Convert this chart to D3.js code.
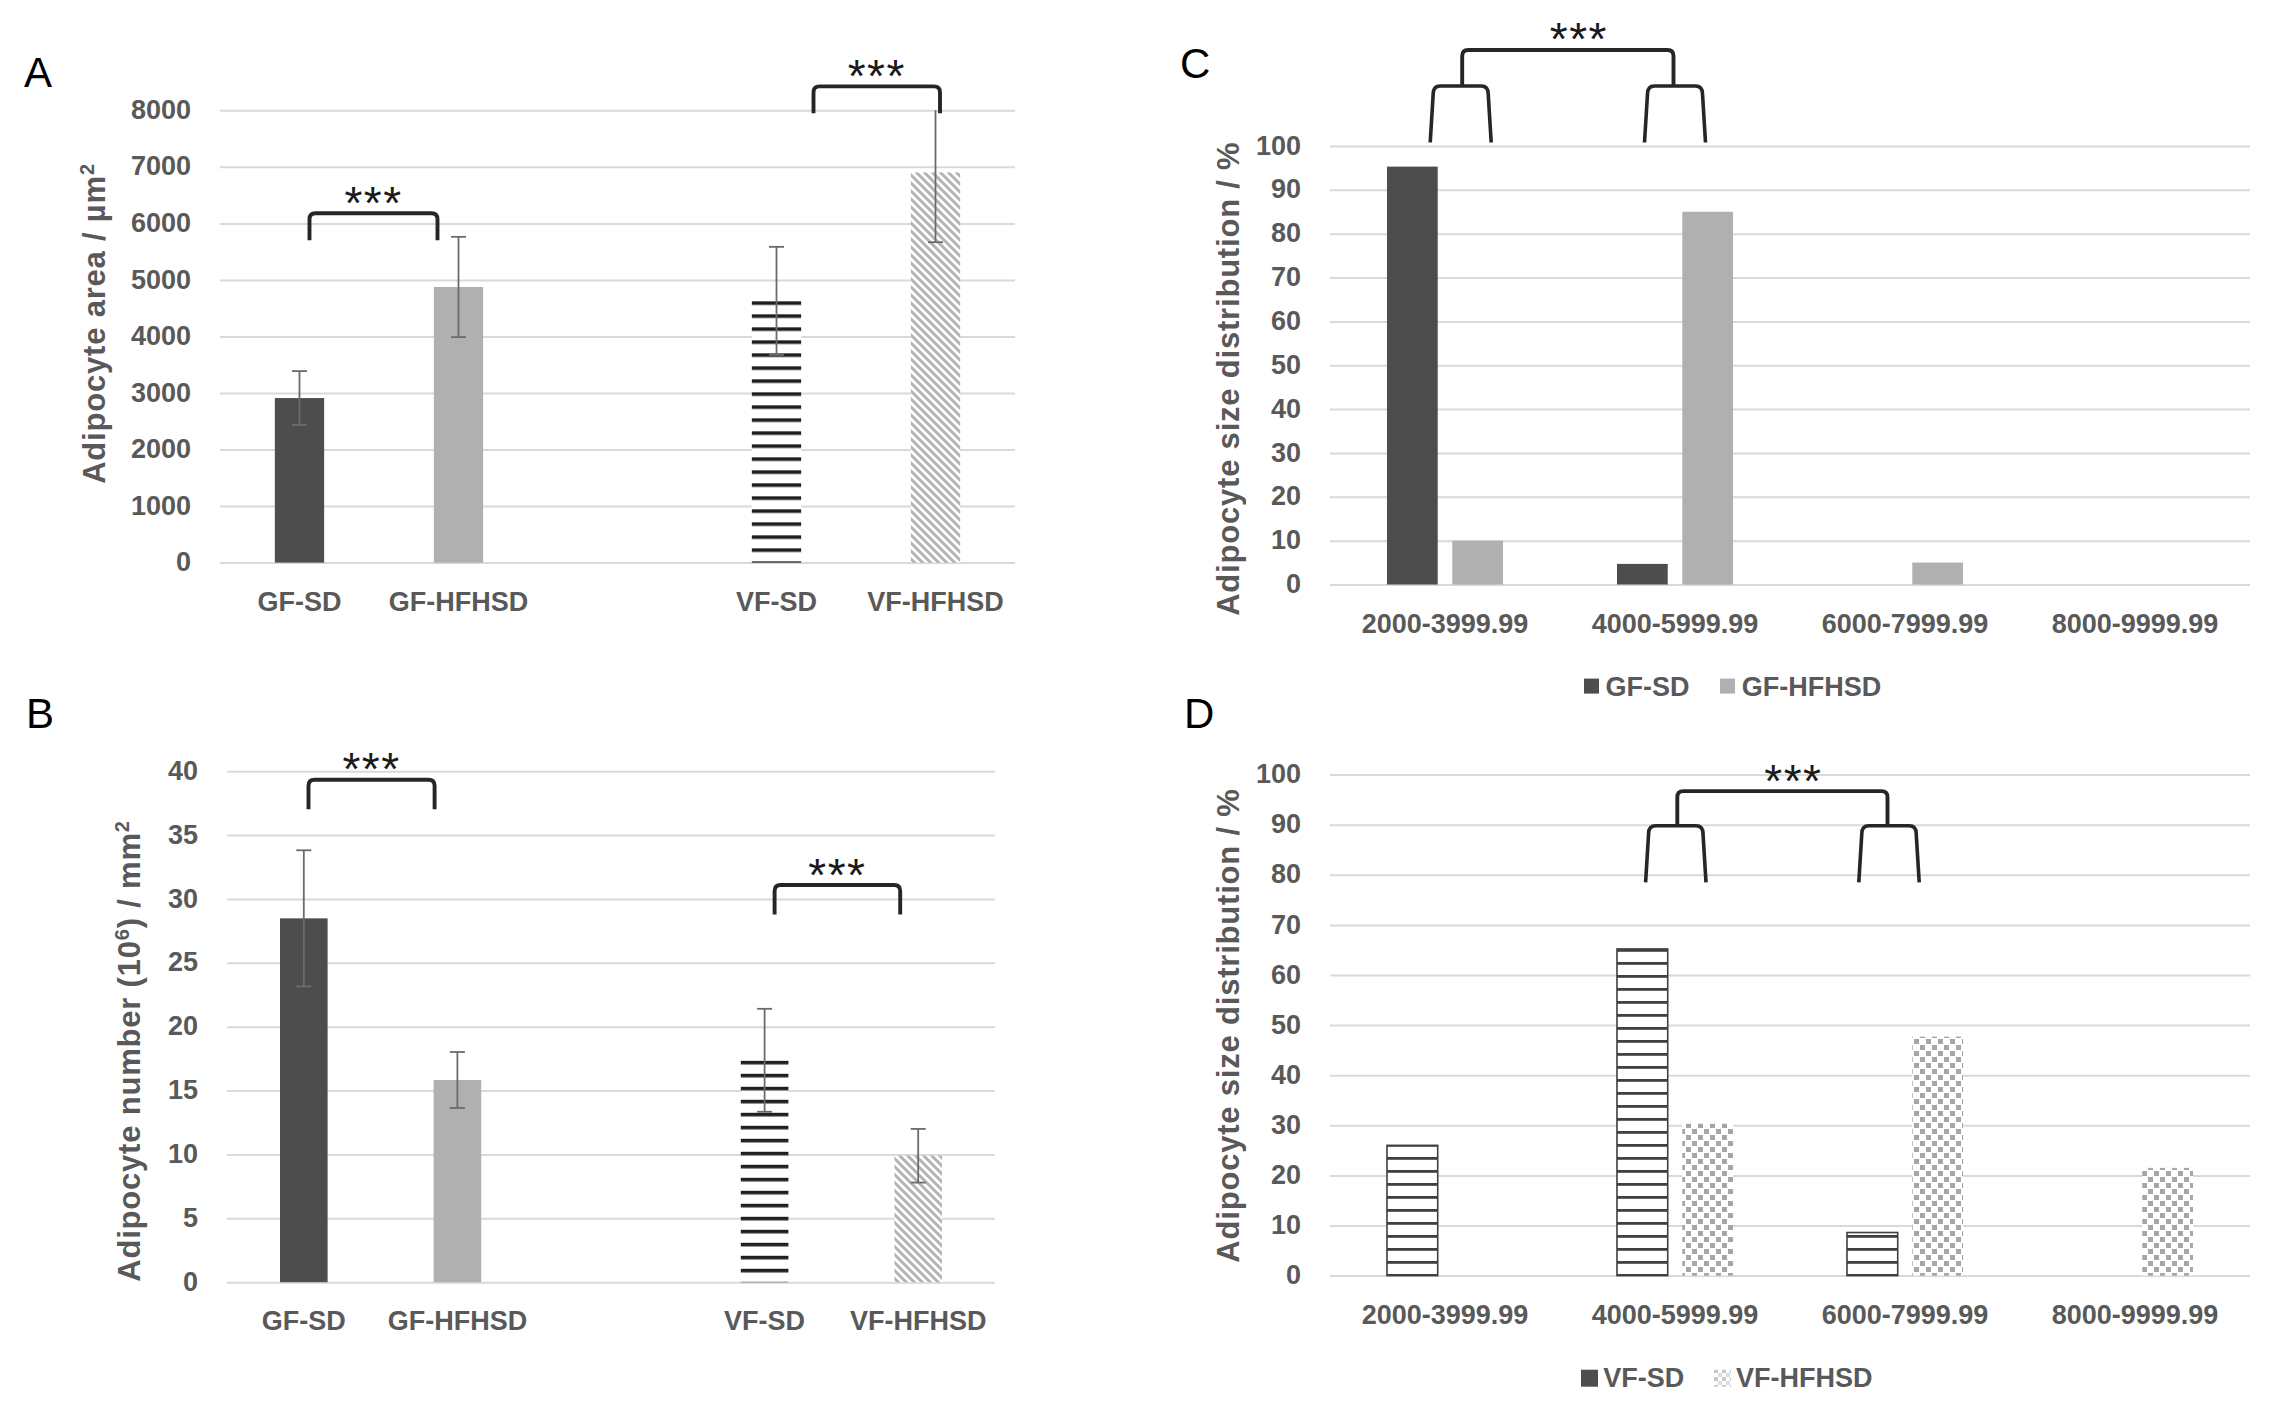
<!DOCTYPE html>
<html><head><meta charset="utf-8">
<script src="https://cdn.jsdelivr.net/npm/d3@7"></script>
<style>
html,body{margin:0;padding:0;background:#fff;}
svg{display:block;}
text{font-family:"Liberation Sans",Arial,Helvetica,sans-serif;}
</style>
</head><body>
<svg id="chart" width="2293" height="1409"></svg>
<script>
// ---------------- data ----------------
const groupCats = ["GF-SD", "GF-HFHSD", "", "VF-SD", "VF-HFHSD"];
const areaMeans = [2910, 4875, null, 4630, 6900];
const areaErr   = [477, 887, null, 955, 1233];
const areaTicks = [0, 1000, 2000, 3000, 4000, 5000, 6000, 7000, 8000];

const numberMeans = [28.48, 15.83, null, 17.37, 9.9];
const numberErr   = [5.33, 2.19, null, 4.03, 2.1];
const numberTicks = [0, 5, 10, 15, 20, 25, 30, 35, 40];

const sizeBins = ["2000-3999.99", "4000-5999.99", "6000-7999.99", "8000-9999.99"];
const gfSD     = [95.3, 4.7, 0, 0];
const gfHFHSD  = [10.0, 85.0, 5.0, 0];
const vfSD     = [26.0, 65.2, 8.6, 0];
const vfHFHSD  = [0, 30.3, 47.7, 21.5];
const pctTicks = [0, 10, 20, 30, 40, 50, 60, 70, 80, 90, 100];

const sig = "***";

// ---------------- setup ----------------
const svg = d3.select("#chart");
svg.append("rect").attr("width", 2293).attr("height", 1409).attr("fill", "#fff");
const defs = svg.append("defs");

const TXT = "#595959", GRID = "#d9d9d9", DARK = "#4d4d4d", LIGHT = "#b0b0b0";
const FONT = '"Liberation Sans", Arial, Helvetica, sans-serif';

// diagonal (downward) stripes
const diag = defs.append("pattern").attr("id", "diag").attr("patternUnits", "userSpaceOnUse")
  .attr("width", 8).attr("height", 8);
diag.append("rect").attr("width", 8).attr("height", 8).attr("fill", "#fff");
diag.append("path").attr("d", "M-2,-2 L10,10 M-2,6 L2,10 M6,-2 L10,2")
  .attr("stroke", "#b3b3b3").attr("stroke-width", 3);

// dotted
const dots = defs.append("pattern").attr("id", "dots").attr("patternUnits", "userSpaceOnUse")
  .attr("width", 12).attr("height", 12);
dots.append("rect").attr("width", 12).attr("height", 12).attr("fill", "#fff");
dots.append("rect").attr("x", 0).attr("y", 1).attr("width", 5).attr("height", 5).attr("fill", "#a6a6a6");
dots.append("rect").attr("x", 6).attr("y", 7).attr("width", 5).attr("height", 5).attr("fill", "#a6a6a6");

function hStripes(id, y0, color, thick) {
  const p = defs.append("pattern").attr("id", id).attr("patternUnits", "userSpaceOnUse")
    .attr("width", 13).attr("height", 13).attr("y", y0);
  p.append("rect").attr("width", 13).attr("height", 13).attr("fill", "#fff");
  p.append("rect").attr("y", 0).attr("width", 13).attr("height", thick).attr("fill", color);
  return `url(#${id})`;
}

function panelLetter(t, x, y) {
  svg.append("text").attr("x", x).attr("y", y).attr("font-size", 42).attr("fill", "#000").text(t);
}

function yTitle(parts, x, y) {
  const t = svg.append("text").attr("transform", `translate(${x},${y}) rotate(-90)`)
    .attr("text-anchor", "middle").attr("font-size", 31).attr("font-weight", "bold")
    .attr("fill", TXT).attr("letter-spacing", 0.8);
  parts.forEach(p => {
    if (p.sup) {
      t.append("tspan").attr("dy", -11).attr("font-size", 20).text(p.t);
    } else {
      t.append("tspan").attr("dy", p.after ? 11 : 0).text(p.t);
    }
  });
}

function gridAxis(y, ticks, x0, x1) {
  const ax = d3.axisLeft(y).tickValues(ticks).tickSize(-(x1 - x0)).tickPadding(29).tickFormat(d3.format("d"));
  const g = svg.append("g").attr("transform", `translate(${x0},0)`).call(ax);
  g.attr("font-family", FONT);
  g.select(".domain").remove();
  g.selectAll(".tick line").attr("stroke", GRID).attr("stroke-width", 2);
  g.selectAll(".tick text").attr("fill", TXT).attr("font-size", 27).attr("font-weight", "bold").attr("dy", "0.3em");
}

function xLabels(x, yBase) {
  const ax = d3.axisBottom(x).tickSize(0).tickPadding(29);
  const g = svg.append("g").attr("transform", `translate(0,${yBase})`).call(ax);
  g.attr("font-family", FONT);
  g.select(".domain").remove();
  g.selectAll(".tick text").attr("fill", TXT).attr("font-size", 27).attr("font-weight", "bold");
}

const BR = "#262626", BW = 3.9;
function simpleBracket(x1, x2, yTop, yBot) {
  const r = 6;
  svg.append("path")
    .attr("d", `M${x1},${yBot} L${x1},${yTop + r} Q${x1},${yTop} ${x1 + r},${yTop} L${x2 - r},${yTop} Q${x2},${yTop} ${x2},${yTop + r} L${x2},${yBot}`)
    .attr("fill", "none").attr("stroke", BR).attr("stroke-width", BW).attr("stroke-linejoin", "round");
}
function flaredBracket(x1, x2, yTop, yBot) {
  svg.append("path")
    .attr("d", `M${x1},${yBot} L${x1 + 3},${yTop + 8} Q${x1 + 3},${yTop} ${x1 + 10},${yTop} L${x2 - 10},${yTop} Q${x2 - 3},${yTop} ${x2 - 3},${yTop + 8} L${x2},${yBot}`)
    .attr("fill", "none").attr("stroke", BR).attr("stroke-width", BW - 0.3).attr("stroke-linejoin", "round");
}
function stars(cx, yTop) {
  svg.append("text").attr("x", cx).attr("y", yTop + 6.5).attr("text-anchor", "middle")
    .attr("font-family", '"DejaVu Sans", sans-serif')
    .attr("font-size", 46).attr("letter-spacing", 1.5).attr("fill", "#1a1a1a").text(sig);
}

// ---------------- panels A & B ----------------
function groupPanel(cfg) {
  const x = d3.scaleBand().domain(groupCats).range(cfg.xr).paddingInner(0.69).paddingOuter(0.345);
  const y = d3.scaleLinear().domain([0, cfg.ymax]).range(cfg.yr);
  gridAxis(y, cfg.ticks, cfg.xr[0], cfg.xr[1]);

  const fills = {
    "GF-SD": DARK,
    "GF-HFHSD": LIGHT,
    "VF-SD": hStripes(cfg.id + "hs", y(cfg.means[3]) + 0.5, "#1e1e1e", 3.6),
    "VF-HFHSD": "url(#diag)"
  };
  const data = groupCats.map((c, i) => ({ c, m: cfg.means[i], e: cfg.err[i] })).filter(d => d.m != null);

  svg.append("g").selectAll("rect").data(data).join("rect")
    .attr("x", d => x(d.c)).attr("width", x.bandwidth())
    .attr("y", d => y(d.m)).attr("height", d => y(0) - y(d.m))
    .attr("fill", d => fills[d.c]);

  const eg = svg.append("g").attr("stroke", "#6b6b6b").attr("stroke-width", 1.8);
  const top = cfg.yr[1];
  data.forEach(d => {
    const cx = x(d.c) + x.bandwidth() / 2;
    const yHi = y(d.m + d.e), yLo = y(d.m - d.e);
    eg.append("line").attr("x1", cx).attr("x2", cx).attr("y1", Math.max(yHi, top)).attr("y2", yLo);
    eg.append("line").attr("x1", cx - 7.5).attr("x2", cx + 7.5).attr("y1", yLo).attr("y2", yLo);
    if (yHi >= top) eg.append("line").attr("x1", cx - 7.5).attr("x2", cx + 7.5).attr("y1", yHi).attr("y2", yHi);
  });

  xLabels(x, y(0));

  cfg.brackets.forEach(b => {
    const x1 = x(b.from) + x.bandwidth() / 2 + b.dx1;
    const x2 = x(b.to) + x.bandwidth() / 2 + b.dx2;
    simpleBracket(x1, x2, y(b.top), y(b.bottom));
    stars((x1 + x2) / 2, y(b.top) - 1);
  });
}

groupPanel({
  id: "A", means: areaMeans, err: areaErr, ticks: areaTicks, ymax: 8000,
  xr: [220, 1015], yr: [562.6, 110.3],
  brackets: [
    { from: "GF-SD", to: "GF-HFHSD", dx1: 10, dx2: -21, top: 6180, bottom: 5700 },
    { from: "VF-SD", to: "VF-HFHSD", dx1: 37, dx2: 4.5, top: 8423, bottom: 7946 }
  ]
});
groupPanel({
  id: "B", means: numberMeans, err: numberErr, ticks: numberTicks, ymax: 40,
  xr: [227, 995], yr: [1282.2, 771.2],
  brackets: [
    { from: "GF-SD", to: "GF-HFHSD", dx1: 4.7, dx2: -22.8, top: 39.33, bottom: 37.02 },
    { from: "VF-SD", to: "VF-HFHSD", dx1: 10, dx2: -18, top: 31.09, bottom: 28.79 }
  ]
});

// ---------------- panels C & D ----------------
function distPanel(cfg) {
  const x0 = d3.scaleBand().domain(sizeBins).range([1330, 2250]);
  const half = 65.3;
  const x1 = d3.scaleBand().domain([0, 1])
    .range([x0.bandwidth() / 2 - half, x0.bandwidth() / 2 + half]).paddingInner(0.223).paddingOuter(0.1115);
  const y = d3.scaleLinear().domain([0, 100]).range(cfg.yr);
  gridAxis(y, pctTicks, 1330, 2250);

  const data = [];
  cfg.series.forEach((s, si) => s.vals.forEach((v, i) => { if (v > 0) data.push({ bin: sizeBins[i], si, v, s }); }));
  svg.append("g").selectAll("rect").data(data).join("rect")
    .attr("x", d => x0(d.bin) + x1(d.si)).attr("width", x1.bandwidth())
    .attr("y", d => y(d.v)).attr("height", d => y(0) - y(d.v))
    .attr("fill", d => d.s.fill)
    .attr("stroke", d => d.s.stroke || "none").attr("stroke-width", d => d.s.stroke ? 1.6 : 0);

  xLabels(x0, y(0));

  // nested brackets
  const nb = cfg.nested;
  const cA = x0(sizeBins[nb.binA]) + x0.bandwidth() / 2 + nb.offA;
  const cB = x0(sizeBins[nb.binB]) + x0.bandwidth() / 2 + nb.offB;
  flaredBracket(cA - nb.hw, cA + nb.hw, y(nb.top), y(nb.bottom));
  flaredBracket(cB - nb.hw, cB + nb.hw, y(nb.top), y(nb.bottom));
  simpleBracket(cA + 1.5, cB - 1.5, y(nb.conn), y(nb.top));
  stars((cA + cB) / 2 + 11, y(nb.conn) - 1);

  // legend
  const lg = cfg.legend;
  cfg.series.forEach((s, si) => {
    svg.append("rect").attr("x", lg.sx[si]).attr("y", lg.base - 17).attr("width", lg.size).attr("height", lg.size)
      .attr("fill", s.legendFill);
    svg.append("text").attr("x", lg.tx[si]).attr("y", lg.base).attr("font-size", 27).attr("font-weight", "bold")
      .attr("fill", TXT).text(s.name);
  });
}

const legendDots = defs.append("pattern").attr("id", "ldots").attr("patternUnits", "userSpaceOnUse")
  .attr("width", 8).attr("height", 8).attr("x", 1714).attr("y", 1369);
legendDots.append("rect").attr("width", 8).attr("height", 8).attr("fill", "#fff");
legendDots.append("rect").attr("width", 4).attr("height", 4).attr("fill", "#c8c8c8");
legendDots.append("rect").attr("x", 4).attr("y", 4).attr("width", 4).attr("height", 4).attr("fill", "#dcdcdc");

distPanel({
  yr: [584.5, 146],
  series: [
    { name: "GF-SD", vals: gfSD, fill: DARK, legendFill: DARK },
    { name: "GF-HFHSD", vals: gfHFHSD, fill: LIGHT, legendFill: LIGHT }
  ],
  nested: { binA: 0, binB: 1, offA: 15.7, offB: 0, hw: 30.5, top: 113.7, bottom: 100.8, conn: 121.9 },
  legend: { sx: [1584, 1720], tx: [1605.6, 1741.8], base: 695.6, size: 15 }
});
distPanel({
  yr: [1275.6, 774.6],
  series: [
    { name: "VF-SD", vals: vfSD, fill: hStripes("Dhs", 0, "#404040", 2.8), stroke: "#404040", legendFill: DARK },
    { name: "VF-HFHSD", vals: vfHFHSD, fill: "url(#dots)", legendFill: "url(#ldots)" }
  ],
  nested: { binA: 1, binB: 2, offA: 0.8, offB: -16, hw: 30.2, top: 89.8, bottom: 78.5, conn: 96.7 },
  legend: { sx: [1581, 1714], tx: [1603.3, 1736], base: 1386.7, size: 17 }
});

// ---------------- titles & letters ----------------
yTitle([{ t: "Adipocyte area / µm" }, { t: "2", sup: true }], 105, 323.5);
yTitle([{ t: "Adipocyte number (10" }, { t: "6", sup: true }, { t: ") / mm", after: true }, { t: "2", sup: true }], 140, 1051);
yTitle([{ t: "Adipocyte size distribution / %" }], 1239, 378.7);
yTitle([{ t: "Adipocyte size distribution / %" }], 1239, 1025.5);

panelLetter("A", 24, 87);
panelLetter("B", 26, 728);
panelLetter("C", 1180, 78);
panelLetter("D", 1184, 728);
</script>
</body></html>
